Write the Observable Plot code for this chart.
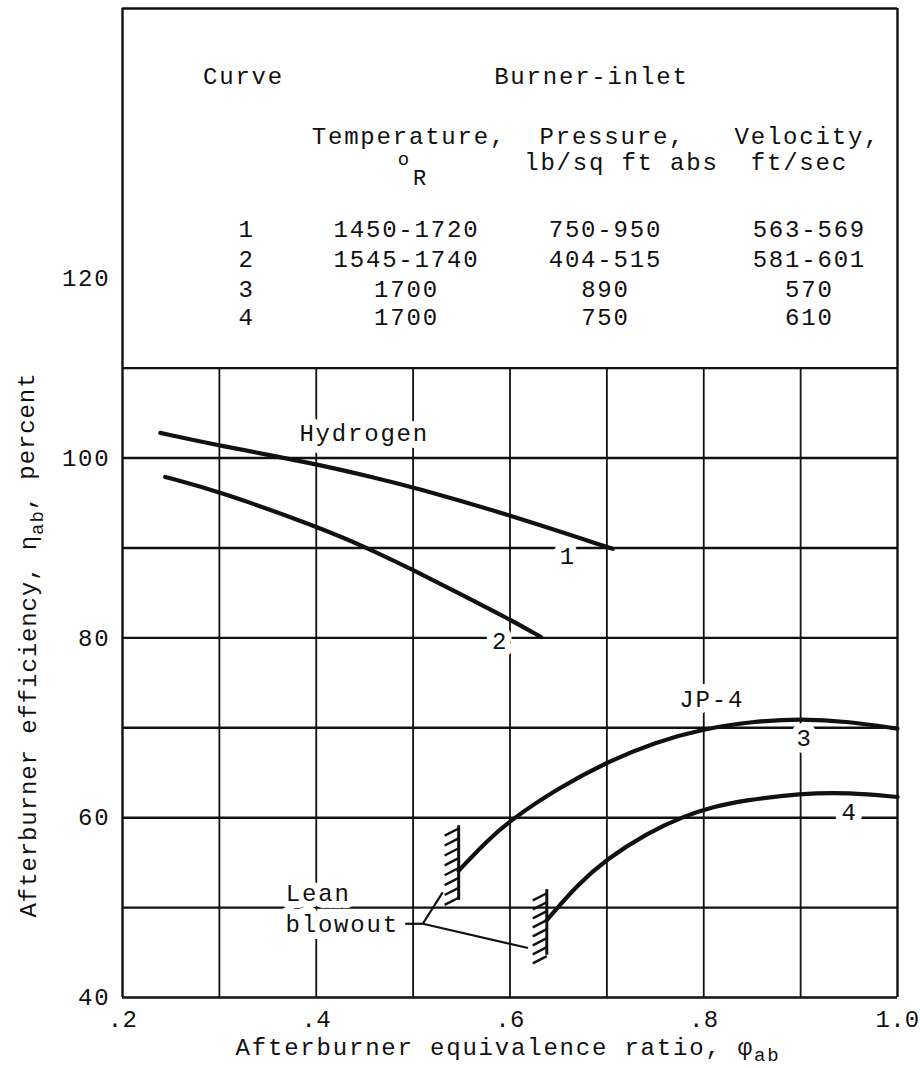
<!DOCTYPE html>
<html>
<head>
<meta charset="utf-8">
<script src="https://cdn.jsdelivr.net/npm/d3@7"></script>
<script src="https://cdn.jsdelivr.net/npm/@observablehq/plot@0.6"></script>
<style>
  html, body { margin: 0; padding: 0; background: #fff; }
  #chart svg text { letter-spacing: 1.8px; }
  #chart svg g[aria-label="x-axis tick label"] text { letter-spacing: 0.3px; }
  #chart svg text.ytitle { letter-spacing: 0.9px; }
</style>
</head>
<body>
<div id="chart"></div>
<script>
// ---------------- data ----------------
// Curve 1 (Hydrogen)
const curve1X = [0.239, 0.299, 0.398, 0.461, 0.499, 0.599, 0.706];
const curve1Y = [102.8, 101.4, 99.4, 97.8, 96.8, 93.7, 89.9];
// Curve 2 (Hydrogen)
const curve2X = [0.244, 0.299, 0.398, 0.453, 0.499, 0.545, 0.599, 0.632];
const curve2Y = [97.9, 96.3, 92.5, 90.0, 87.6, 85.1, 82.1, 80.1];
// Curve 3 (JP-4)
const curve3X = [0.547, 0.575, 0.600, 0.650, 0.700, 0.750, 0.800, 0.850, 0.900, 0.950, 1.000];
const curve3Y = [54.1, 57.3, 59.7, 63.3, 66.2, 68.4, 69.9, 70.7, 71.0, 70.7, 69.9];
// Curve 4 (JP-4)
const curve4X = [0.638, 0.670, 0.700, 0.740, 0.780, 0.810, 0.840, 0.900, 0.950, 1.000];
const curve4Y = [48.6, 52.6, 55.4, 58.2, 60.2, 61.2, 61.9, 62.7, 62.8, 62.3];

// Lean blowout hatches (x position, extent, tick y values)
const hatch1X = 0.547, hatch1Y = [50.8, 59.1];
const hatch1Ticks = [58.8, 57.7, 56.6, 55.5, 54.4, 53.3, 52.2, 51.1];
const hatch2X = 0.638, hatch2Y = [44.7, 52.0];
const hatch2Ticks = [51.6, 50.6, 49.6, 48.6, 47.6, 46.6, 45.6, 44.6];

// Curve / annotation labels
const labelText = ["Hydrogen", "1", "2", "JP-4", "3", "4", "Lean", "blowout"];
const labelX    = [0.4495, 0.6598, 0.5897, 0.8082, 0.9041, 0.9505, 0.402, 0.4268];
const labelY    = [101.85, 88.2, 78.8, 72.3, 68.0, 59.7, 50.7, 47.3];

// Leader lines for "Lean blowout"
const leaderX1 = [0.4918, 0.510, 0.510];
const leaderY1 = [48.2, 48.2, 48.2];
const leaderX2 = [0.510, 0.5305, 0.6186];
const leaderY2 = [48.2, 51.7, 45.5];

// Table (legend)
const curveIds     = ["1", "2", "3", "4"];
const temperatures = ["1450-1720", "1545-1740", "1700", "1700"];
const pressures    = ["750-950", "404-515", "890", "750"];
const velocities   = ["563-569", "581-601", "570", "610"];
const headerTexts  = ["Curve", "Burner-inlet", "Temperature,", "Pressure,", "Velocity,", "lb/sq ft abs", "ft/sec"];

// Axes
const xTicks = [0.2, 0.4, 0.6, 0.8, 1.0];
const xTickLabels = [".2", ".4", ".6", ".8", "1.0"];
const yTicks = [40, 60, 80, 100, 120];
const hGrid = [40, 50, 60, 70, 80, 90, 100, 110];
const vGrid = [0.3, 0.4, 0.5, 0.6, 0.7, 0.8, 0.9];

// ---------------- layout (positions in chart units) ----------------
const rowY = [124.54, 121.20, 117.86, 114.75];
const colCurve = 0.328, colTemp = 0.4931, colPress = 0.6985, colVel = 0.909;
const headerX = [0.3249, 0.684, 0.4957, 0.7057, 0.907, 0.715, 0.8987];
const headerY = [141.56, 141.56, 134.88, 134.88, 134.88, 131.99, 131.99];

const pts = (xs, ys) => xs.map((x, i) => ({x, y: ys[i]}));
const tableRows = [];
curveIds.forEach((c, i) => {
  tableRows.push({x: colCurve, y: rowY[i], t: c});
  tableRows.push({x: colTemp, y: rowY[i], t: temperatures[i]});
  tableRows.push({x: colPress, y: rowY[i], t: pressures[i]});
  tableRows.push({x: colVel, y: rowY[i], t: velocities[i]});
});
const headers = headerTexts.map((t, i) => ({x: headerX[i], y: headerY[i], t}));
const labels = labelText.map((t, i) => ({x: labelX[i], y: labelY[i], t}));
const leaders = leaderX1.map((x1, i) => ({x1, y1: leaderY1[i], x2: leaderX2[i], y2: leaderY2[i]}));
const tickDX = 0.0145, tickDY = 0.8;
const hatchTicks = [
  ...hatch1Ticks.map(y => ({x1: hatch1X, y1: y, x2: hatch1X - tickDX, y2: y - tickDY})),
  ...hatch2Ticks.map(y => ({x1: hatch2X, y1: y, x2: hatch2X - tickDX, y2: y - tickDY}))
];
const hatchLines = [
  {x: hatch1X, y1: hatch1Y[0], y2: hatch1Y[1]},
  {x: hatch2X, y1: hatch2Y[0], y2: hatch2Y[1]}
];

const FONT = "Liberation Mono";
const INK = "#111";
const curveOpts = {x: "x", y: "y", curve: "basis", stroke: INK, strokeWidth: 4.2};

const chart = Plot.plot({
  width: 920,
  height: 1068,
  marginLeft: 122,
  marginRight: 23,
  marginTop: 8,
  marginBottom: 71,
  style: {fontFamily: FONT, fontSize: "24px", color: INK, background: "#fff"},
  x: {domain: [0.2, 1.0]},
  y: {domain: [40, 150]},
  marks: [
    // grid
    Plot.ruleY(hGrid, {stroke: INK, strokeWidth: 2.4}),
    Plot.ruleX(vGrid, {y1: 40, y2: 110, stroke: INK, strokeWidth: 1.8}),
    // frame
    Plot.ruleX([0.2, 1.0], {y1: 40, y2: 150, stroke: INK, strokeWidth: 2.4}),
    Plot.ruleY([150], {stroke: INK, strokeWidth: 2.4}),
    // axes
    Plot.axisX(xTicks, {tickSize: 0, tickPadding: 12, tickFormat: (d, i) => xTickLabels[i], label: null, fontSize: 24}),
    Plot.axisY(yTicks, {tickSize: 0, tickPadding: 12, label: null, fontSize: 24}),
    // labels with white halo (break the grid)
    Plot.text(labels, {x: "x", y: "y", text: "t", fontSize: 24, lineAnchor: "bottom", fill: INK,
      stroke: "white", strokeWidth: 14, paintOrder: "stroke"}),
    // curves
    Plot.line(pts(curve1X, curve1Y), curveOpts),
    Plot.line(pts(curve2X, curve2Y), curveOpts),
    Plot.line(pts(curve3X, curve3Y), curveOpts),
    Plot.line(pts(curve4X, curve4Y), curveOpts),
    // hatches
    Plot.ruleX(hatchLines, {x: "x", y1: "y1", y2: "y2", stroke: INK, strokeWidth: 3}),
    Plot.link(hatchTicks, {x1: "x1", y1: "y1", x2: "x2", y2: "y2", stroke: INK, strokeWidth: 2.4}),
    // leaders
    Plot.link(leaders, {x1: "x1", y1: "y1", x2: "x2", y2: "y2", stroke: INK, strokeWidth: 2.2}),
    // table
    Plot.text(headers, {x: "x", y: "y", text: "t", fontSize: 24, lineAnchor: "bottom", fill: INK}),
    Plot.text(tableRows, {x: "x", y: "y", text: "t", fontSize: 24, lineAnchor: "bottom", fill: INK}),
    Plot.text([{x: 0.491, y: 132.55, t: "o"}], {x: "x", y: "y", text: "t", fontSize: 19, lineAnchor: "bottom", fill: INK}),
    Plot.text([{x: 0.5075, y: 130.33, t: "R"}], {x: "x", y: "y", text: "t", fontSize: 22, lineAnchor: "bottom", fill: INK})
  ]
});

document.getElementById("chart").appendChild(chart);

// axis titles with subscripts
const svg = d3.select(chart);
const yt = svg.append("text")
  .attr("class", "ytitle")
  .attr("transform", "translate(36,645) rotate(-90)")
  .attr("text-anchor", "middle")
  .attr("font-family", FONT)
  .attr("font-size", 24)
  .attr("fill", INK);
yt.append("tspan").text("Afterburner efficiency, \u03B7");
yt.append("tspan").attr("dy", "0.35em").attr("font-size", 19).text("ab");
yt.append("tspan").attr("dy", "-0.35em").text(", percent");

const xt = svg.append("text")
  .attr("x", 508).attr("y", 1055)
  .attr("text-anchor", "middle")
  .attr("font-family", FONT)
  .attr("font-size", 24)
  .attr("fill", INK);
xt.append("tspan").text("Afterburner equivalence ratio, \u03C6");
xt.append("tspan").attr("dy", "0.3em").attr("font-size", 19).text("ab");
</script>
</body>
</html>
